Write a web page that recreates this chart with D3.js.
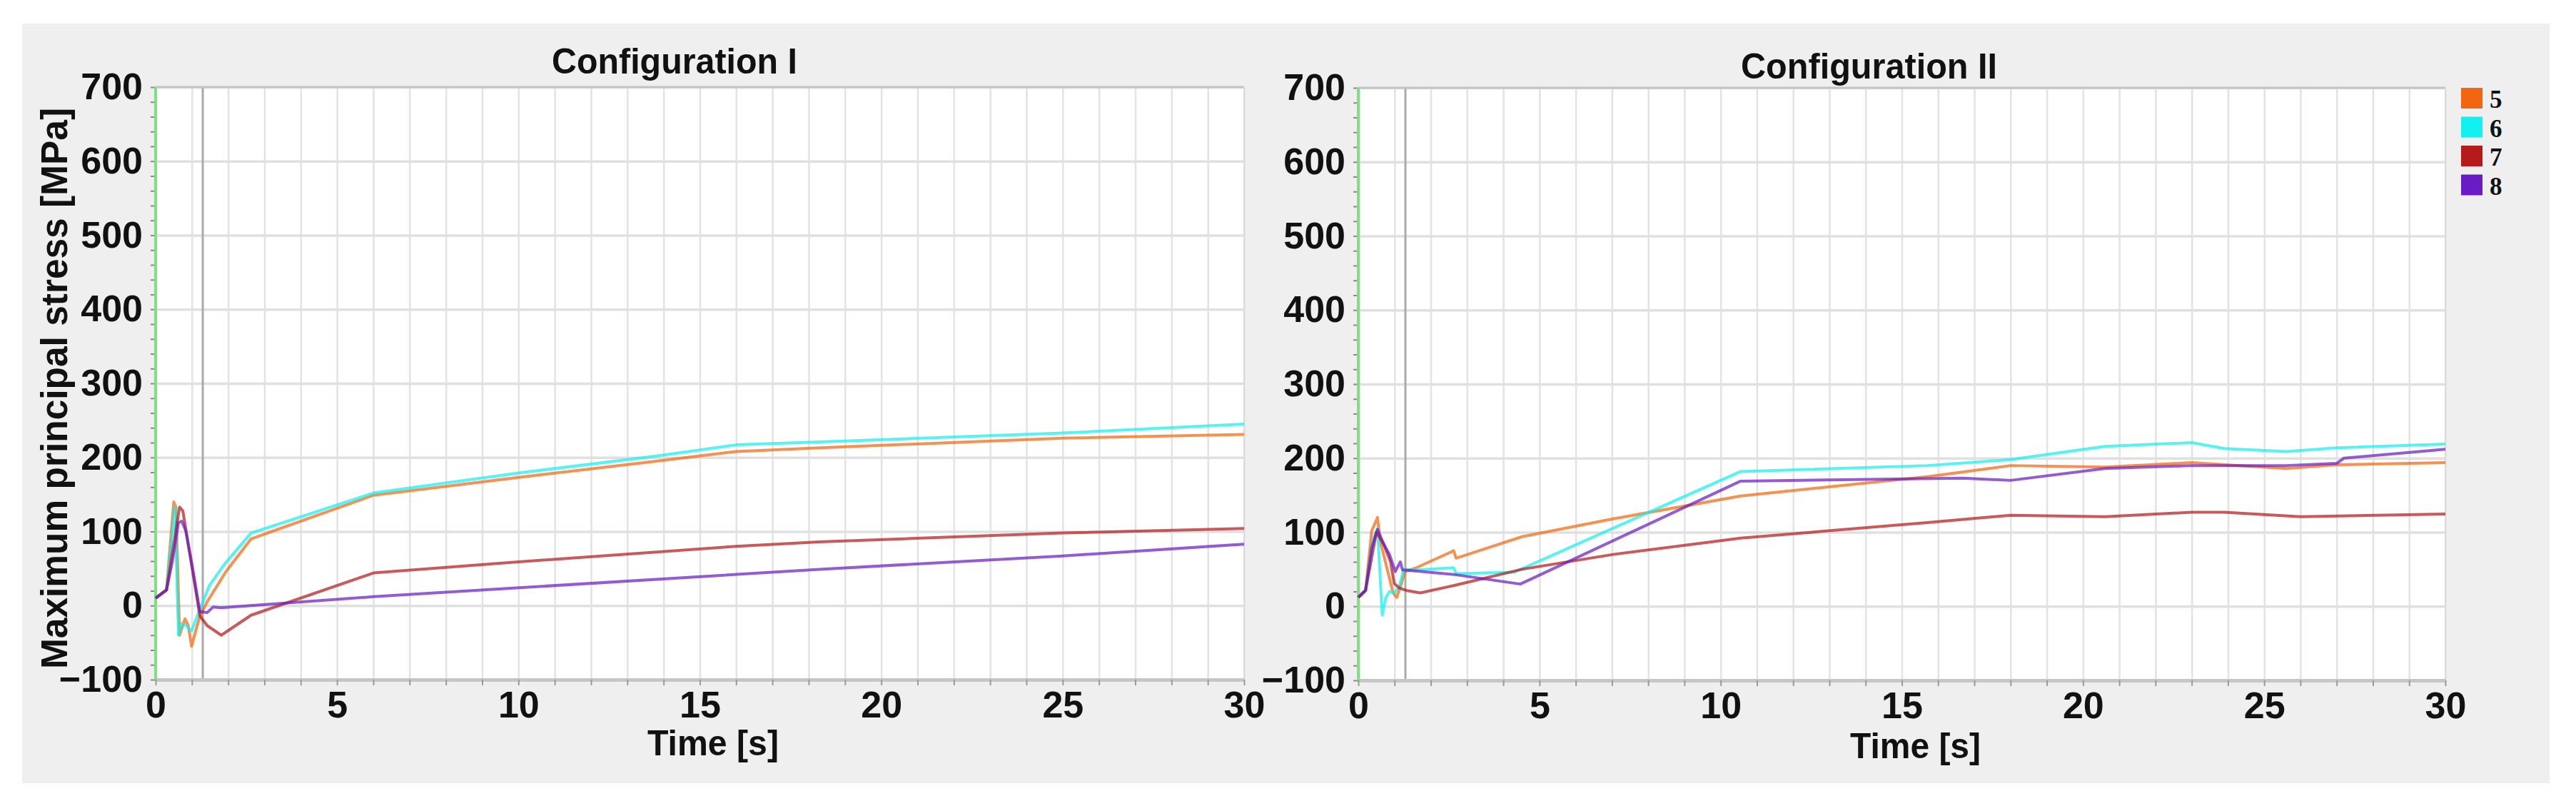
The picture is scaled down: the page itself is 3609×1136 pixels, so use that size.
<!DOCTYPE html>
<html>
<head>
<meta charset="utf-8">
<script src="https://cdn.jsdelivr.net/npm/d3@7"></script>
<style>
body { margin:0; background:#fff; }
text { font-family: "Liberation Sans", Arial, sans-serif; font-weight:bold; fill:#111; }
</style>
</head>
<body>
<div id="chart"></div>
<script>
////////// Data
var xTicks = [0, 5, 10, 15, 20, 25, 30];
var yTicks = [-100, 0, 100, 200, 300, 400, 500, 600, 700];
var seriesNames = ["5", "6", "7", "8"];
var seriesColors = ["#f2660f", "#12f0ef", "#b51b1b", "#6a1cc4"];
var cursorTime = 1.3;

// Configuration I  [time s, stress MPa]
var conf1_s5 = [[0,10],[0.3,21],[0.5,140],[0.56,133],[0.66,-40],[0.81,-18],[0.9,-27],[0.99,-55],[1.22,-14],[1.42,5],[1.94,46],[2.63,90],[6,149],[10,173],[13.8,195],[16,208],[18.3,213],[25,226],[30,231]];
var conf1_s6 = [[0,10],[0.3,21],[0.53,133],[0.63,-40],[0.73,-24],[0.83,-27],[0.99,-34],[1.22,-5],[1.48,27],[1.9,56],[2.63,98],[6,152],[10,179],[13.8,202],[16,217],[18.3,221],[25,233],[30,245]];
var conf1_s7 = [[0,10],[0.3,21],[0.66,133],[0.75,128],[1.02,46],[1.22,-14],[1.42,-27],[1.81,-40],[2.63,-13],[6,44],[10,59],[16,80],[18.3,86],[25,98],[30,104]];
var conf1_s8 = [[0,10],[0.3,21],[0.46,59],[0.63,112],[0.72,114],[0.83,101],[0.99,59],[1.22,-8],[1.42,-9.5],[1.58,-2],[1.81,-3],[6,12],[18.3,49],[25,67],[30,83]];

// Configuration II
var conf2_s5 = [[0,12],[0.2,21.5],[0.37,102],[0.53,120],[0.6,89],[0.96,18],[1.06,12],[1.19,31],[1.29,47],[1.6,52],[2.63,75],[2.7,65],[4.52,94],[7.03,118],[10.55,149],[15.7,175],[18,190],[20.6,188],[23,194],[25.6,186],[27,191],[30,194]];
var conf2_s6 = [[0,12],[0.2,21.5],[0.4,89],[0.53,104],[0.66,-12],[0.76,12],[0.86,20],[0.99,18],[1.12,25],[1.25,50],[1.52,49],[2.63,52],[2.7,44],[4.3,46],[10.55,182],[15.7,190],[18,198],[20.6,216],[23,221],[23.9,213],[25.6,209],[27,214],[30,219]];
var conf2_s7 = [[0,12],[0.2,21.5],[0.5,100],[0.7,84],[0.89,60],[0.99,31],[1.12,25],[1.32,21.5],[1.71,18],[2.63,28],[4.52,50],[7.03,70],[10.55,92],[15.7,113],[18,123],[20.6,121],[23,127],[23.9,127],[26,121],[30,124.6]];
var conf2_s8 = [[0,12],[0.2,21.5],[0.37,79],[0.53,104],[0.7,84],[0.86,70],[1.02,47],[1.16,60],[1.22,49],[1.31,49],[2.63,43],[4.47,30],[10.55,169],[16.7,173],[18,170],[20.6,186],[23,190],[25.6,190],[27,193],[27.2,200],[30,212]];

////////// Layout
var W = 3609, H = 1136;
var panels = [
  { title: "Configuration I", series: [conf1_s5, conf1_s6, conf1_s7, conf1_s8],
    left: 218, right: 1743, top: 122, bottom: 952,
    titleX: 773, titleY: 103, titleW: 344, xlabX: 907, xlabY: 1058, xlabW: 184,
    ylab: true, legend: false },
  { title: "Configuration II", series: [conf2_s5, conf2_s6, conf2_s7, conf2_s8],
    left: 1903, right: 3426, top: 123, bottom: 953,
    titleX: 2439, titleY: 110, titleW: 359, xlabX: 2592, xlabY: 1062, xlabW: 183,
    ylab: false, legend: true }
];

var svg = d3.select("#chart").append("svg").attr("width", W).attr("height", H);
svg.append("rect").attr("width", W).attr("height", H).attr("fill", "#fff");
svg.append("rect").attr("x", 31).attr("y", 33).attr("width", 3541).attr("height", 1064).attr("fill", "#efefef");

panels.forEach(function(p) {
  var x = d3.scaleLinear().domain([0, 30]).range([p.left, p.right]);
  var y = d3.scaleLinear().domain([-100, 700]).range([p.bottom, p.top]);
  var g = svg.append("g");

  g.append("rect").attr("x", p.left).attr("y", p.top)
    .attr("width", p.right - p.left).attr("height", p.bottom - p.top).attr("fill", "#fff");

  // vertical grid, one line per second
  g.append("g").attr("transform", "translate(0," + p.bottom + ")")
    .call(d3.axisBottom(x).tickValues(d3.range(0, 31, 1)).tickSize(-(p.bottom - p.top)).tickSizeOuter(0).tickFormat(""))
    .call(function(a) {
      a.select(".domain").remove();
      a.selectAll("line").attr("stroke", "#e3e3e3").attr("stroke-width", 2.5);
    });

  // horizontal grid
  g.append("g").attr("transform", "translate(" + p.left + ",0)")
    .call(d3.axisLeft(y).tickValues(yTicks).tickSize(-(p.right - p.left)).tickSizeOuter(0).tickFormat(""))
    .call(function(a) {
      a.select(".domain").remove();
      a.selectAll("line").attr("stroke", "#e0e0e0").attr("stroke-width", 3.5);
    });

  // time cursor
  g.append("line")
    .attr("x1", x(cursorTime)).attr("x2", x(cursorTime))
    .attr("y1", p.top).attr("y2", p.bottom)
    .attr("stroke", "#aaaaaa").attr("stroke-width", 3);

  // frame: top and right
  g.append("line").attr("x1", p.left).attr("x2", p.right).attr("y1", p.top).attr("y2", p.top)
    .attr("stroke", "#c4c4c4").attr("stroke-width", 3);
  g.append("line").attr("x1", p.right).attr("x2", p.right).attr("y1", p.top).attr("y2", p.bottom)
    .attr("stroke", "#dcdcdc").attr("stroke-width", 2);

  // bottom axis with small ticks
  g.append("g").attr("transform", "translate(0," + p.bottom + ")")
    .call(d3.axisBottom(x).tickValues(d3.range(0, 31, 1)).tickSize(8).tickSizeOuter(0).tickFormat(""))
    .call(function(a) {
      a.select(".domain").attr("stroke", "#c6c6c6").attr("stroke-width", 5);
      a.selectAll("line").attr("stroke", "#9a9a9a").attr("stroke-width", 2);
    });

  // small ticks left of the y axis
  g.append("g").attr("transform", "translate(" + p.left + ",0)")
    .call(d3.axisLeft(y).tickValues(d3.range(-100, 701, 20)).tickSize(7).tickSizeOuter(0).tickFormat(""))
    .call(function(a) {
      a.select(".domain").remove();
      a.selectAll("line").attr("stroke", "#8a8a8a").attr("stroke-width", 2);
    });

  // green y axis line
  g.append("line").attr("x1", p.left).attr("x2", p.left).attr("y1", p.top).attr("y2", p.bottom)
    .attr("stroke", "#7fe07f").attr("stroke-width", 4);

  // curves
  var line = d3.line().x(function(d) { return x(d[0]); }).y(function(d) { return y(d[1]); });
  p.series.forEach(function(s, i) {
    g.append("path").datum(s)
      .attr("d", line)
      .attr("fill", "none")
      .attr("stroke", seriesColors[i])
      .attr("stroke-opacity", 0.72)
      .attr("stroke-width", 4)
      .attr("stroke-linejoin", "round");
  });

  // tick labels
  g.append("g").attr("transform", "translate(0," + p.bottom + ")")
    .call(d3.axisBottom(x).tickValues(xTicks).tickSize(0).tickPadding(16))
    .call(function(a) {
      a.select(".domain").remove();
      a.selectAll("text").attr("font-size", 52).attr("fill", "#111");
    });
  g.append("g").attr("transform", "translate(" + p.left + ",0)")
    .call(d3.axisLeft(y).tickValues(yTicks).tickSize(0).tickPadding(18))
    .call(function(a) {
      a.select(".domain").remove();
      a.selectAll("text").attr("font-size", 52).attr("fill", "#111");
    });

  // titles
  g.append("text").attr("x", p.titleX).attr("y", p.titleY)
    .attr("font-size", 50).attr("textLength", p.titleW).attr("lengthAdjust", "spacingAndGlyphs")
    .text(p.title);
  g.append("text").attr("x", p.xlabX).attr("y", p.xlabY)
    .attr("font-size", 50).attr("textLength", p.xlabW).attr("lengthAdjust", "spacingAndGlyphs")
    .text("Time [s]");

  if (p.ylab) {
    g.append("text").attr("transform", "translate(94,544) rotate(-90)")
      .attr("text-anchor", "middle").attr("font-size", 51)
      .attr("textLength", 786).attr("lengthAdjust", "spacingAndGlyphs")
      .text("Maximum principal stress [MPa]");
  }

  if (p.legend) {
    var lg = g.append("g").attr("transform", "translate(3448,123)");
    seriesNames.forEach(function(n, i) {
      lg.append("rect").attr("x", 0).attr("y", i * 40.5).attr("width", 30).attr("height", 29)
        .attr("fill", seriesColors[i]);
      lg.append("text").attr("x", 40).attr("y", 28 + i * 40.5)
        .attr("font-size", 35).style("font-family", "'Liberation Serif', 'Times New Roman', serif")
        .text(n);
    });
  }
});
</script>
</body>
</html>
